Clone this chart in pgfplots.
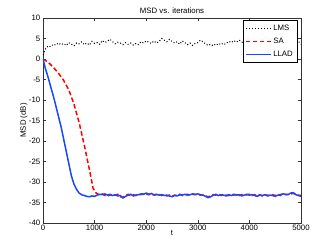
\documentclass[border=0pt]{standalone}
\usepackage{pgfplots}
\pgfplotsset{compat=1.18}
\usepackage{fontspec}
\setmainfont{Liberation Sans}
\begin{document}
\fontsize{7.8}{9}\selectfont
\begin{tikzpicture}[x=1pt,y=1pt]
\path[use as bounding box] (-43,-27) rectangle (289,223);
\begin{axis}[
  at={(0,0)}, anchor=south west,
  scale only axis, width=258pt, height=205pt,
  xmin=0, xmax=5000, ymin=-40, ymax=10,
  xtick={0,1000,2000,3000,4000,5000},
  ytick={-40,-35,-30,-25,-20,-15,-10,-5,0,5,10},
  scaled x ticks=false,
  /pgf/number format/assume math mode=true,
  /pgf/number format/1000 sep={},
  tick label style={font=\fontsize{7.8}{9}\selectfont},
  xticklabel style={yshift=1pt},
  axis line style={line width=0.6pt, black!80},
  tick style={line width=0.5pt, black!80},
  tick align=inside, tick pos=both,
  major tick length=3pt,
  title={MSD vs. iterations}, title style={font=\fontsize{7.8}{9}\selectfont, yshift=-4pt},
  xlabel={t}, ylabel={MSD (dB)},
  label style={font=\fontsize{7.8}{9}\selectfont},
  xlabel style={yshift=5pt}, ylabel style={yshift=-4pt},
  legend style={font=\fontsize{7.8}{9}\selectfont, inner xsep=2pt, inner ysep=2.5pt, row sep=2.5pt, draw=black, line width=0.6pt, at={(0.985,0.99)}, anchor=north east},
  legend cell align=left,
  legend image post style={xscale=1.45},
]
\addplot[black, dotted, line width=1pt] coordinates {
(0,1.0)(50,2.5)(100,3.2)(150,3.0)(200,3.6)(250,3.4)(300,3.9)(350,3.5)(400,3.8)(450,3.3)
(500,4.0)(550,3.6)(600,3.2)(650,3.9)(700,3.7)(750,4.2)(800,3.5)(850,3.9)(900,3.4)(950,4.3)
(1000,3.8)(1050,4.0)(1100,3.6)(1150,4.5)(1200,4.0)(1250,4.4)(1300,4.8)(1350,4.2)(1400,3.7)(1450,4.1)
(1500,3.9)(1550,3.5)(1600,4.0)(1650,3.6)(1700,3.9)(1750,3.4)(1800,3.8)(1850,3.5)(1900,4.2)(1950,3.9)
(2000,4.4)(2050,4.1)(2100,3.8)(2150,4.4)(2200,3.9)(2250,4.3)(2300,5.0)(2350,4.6)(2400,4.2)(2450,4.8)
(2500,4.3)(2550,3.9)(2600,4.2)(2650,3.6)(2700,4.4)(2750,4.0)(2800,3.5)(2850,3.9)(2900,3.3)(2950,3.8)
(3000,4.0)(3050,4.6)(3100,4.2)(3150,3.7)(3200,3.3)(3250,3.6)(3300,3.2)(3350,3.7)(3400,3.4)(3450,3.9)
(3500,3.5)(3550,3.8)(3600,4.3)(3650,4.0)(3700,4.5)(3750,4.1)(3800,4.6)(3850,4.2)(3900,3.7)(3950,4.1)
(4000,3.9)(4050,4.3)(4100,3.8)(4150,4.2)(4200,4.4)(4250,3.9)(4300,4.7)(4350,4.1)(4400,3.8)(4450,4.3)
(4500,4.0)(4550,4.4)(4600,3.9)(4650,4.2)(4700,3.8)(4750,4.1)(4800,3.7)(4850,4.2)(4900,3.9)(4950,4.3)
(5000,3.6)
};
\addlegendentry{LMS}
\addplot[red, line width=1.5pt, dash pattern=on 4.5pt off 2.5pt] coordinates {
(0,0)(100,-0.8)(200,-2.0)(300,-3.5)(390,-5.0)(500,-7.5)(600,-11.0)(700,-15.5)(800,-21.0)(900,-27.0)
(970,-31.5)(1020,-32.6)(1070,-33.0)(1100,-33.1)(1150,-32.9)(1200,-33.3)(1250,-33.5)(1300,-33.1)(1350,-33.4)(1400,-33.2)
(1450,-33.0)(1500,-33.6)(1550,-33.7)(1600,-33.3)(1650,-33.0)(1700,-33.3)(1750,-33.1)(1800,-33.3)(1850,-33.0)(1900,-33.1)
(1950,-32.8)(2000,-32.9)(2050,-33.1)(2100,-32.9)(2150,-33.2)(2200,-33.1)(2250,-33.0)(2300,-33.3)(2350,-33.1)(2400,-33.4)
(2450,-33.2)(2500,-33.5)(2550,-33.2)(2600,-33.3)(2650,-33.0)(2700,-33.3)(2750,-33.1)(2800,-33.0)(2850,-33.2)(2900,-33.0)
(2950,-33.1)(3000,-33.0)(3050,-33.2)(3100,-33.1)(3150,-33.4)(3200,-33.6)(3250,-33.4)(3300,-33.1)(3350,-33.2)(3400,-33.1)
(3450,-33.3)(3500,-33.0)(3550,-33.2)(3600,-33.3)(3650,-33.0)(3700,-33.2)(3750,-33.0)(3800,-33.3)(3850,-33.1)(3900,-33.3)
(3950,-33.1)(4000,-33.0)(4050,-33.3)(4100,-33.1)(4150,-33.3)(4200,-33.1)(4250,-33.4)(4300,-33.2)(4350,-33.2)(4400,-33.4)
(4450,-33.1)(4500,-33.3)(4550,-33.0)(4600,-33.3)(4650,-32.8)(4700,-33.1)(4750,-33.0)(4800,-32.9)(4850,-32.8)(4900,-33.0)
(4950,-33.2)(5000,-33.3)
};
\addlegendentry{SA}
\addplot[blue!80!cyan!90!white, line width=1.5pt] coordinates {
(0,0)(50,-2.5)(100,-4.5)(150,-6.8)(200,-9.0)(250,-11.5)(300,-14.0)(350,-16.5)(400,-19.5)(450,-22.5)
(500,-25.5)(550,-28.5)(600,-30.5)(650,-31.8)(700,-32.7)(750,-33.1)(800,-33.3)(850,-33.5)(900,-33.6)(950,-33.4)
(1000,-33.5)(1050,-33.2)(1100,-33.0)(1150,-33.1)(1200,-32.9)(1250,-33.2)(1300,-33.0)(1350,-33.3)(1400,-33.1)(1450,-33.4)
(1500,-33.3)(1550,-33.9)(1600,-33.5)(1650,-33.2)(1700,-33.0)(1750,-33.4)(1800,-33.2)(1850,-33.1)(1900,-32.9)(1950,-33.0)
(2000,-32.7)(2050,-33.0)(2100,-32.8)(2150,-33.1)(2200,-33.0)(2250,-33.2)(2300,-33.1)(2350,-33.3)(2400,-33.2)(2450,-33.4)
(2500,-33.6)(2550,-33.3)(2600,-33.4)(2650,-33.1)(2700,-33.2)(2750,-33.0)(2800,-33.2)(2850,-33.1)(2900,-32.9)(2950,-33.0)
(3000,-32.9)(3050,-33.1)(3100,-33.2)(3150,-33.5)(3200,-33.8)(3250,-33.6)(3300,-33.2)(3350,-33.0)(3400,-33.3)(3450,-33.1)
(3500,-33.2)(3550,-33.4)(3600,-33.1)(3650,-33.3)(3700,-33.0)(3750,-33.2)(3800,-33.1)(3850,-33.4)(3900,-33.2)(3950,-33.0)
(4000,-33.2)(4050,-33.1)(4100,-33.3)(4150,-33.5)(4200,-33.2)(4250,-33.3)(4300,-33.1)(4350,-33.4)(4400,-33.2)(4450,-33.3)
(4500,-33.5)(4550,-33.2)(4600,-33.1)(4650,-32.9)(4700,-33.0)(4750,-33.1)(4800,-32.7)(4850,-32.6)(4900,-33.1)(4950,-33.3)
(5000,-33.5)
};
\addlegendentry{LLAD}
\end{axis}
\end{tikzpicture}
\end{document}
